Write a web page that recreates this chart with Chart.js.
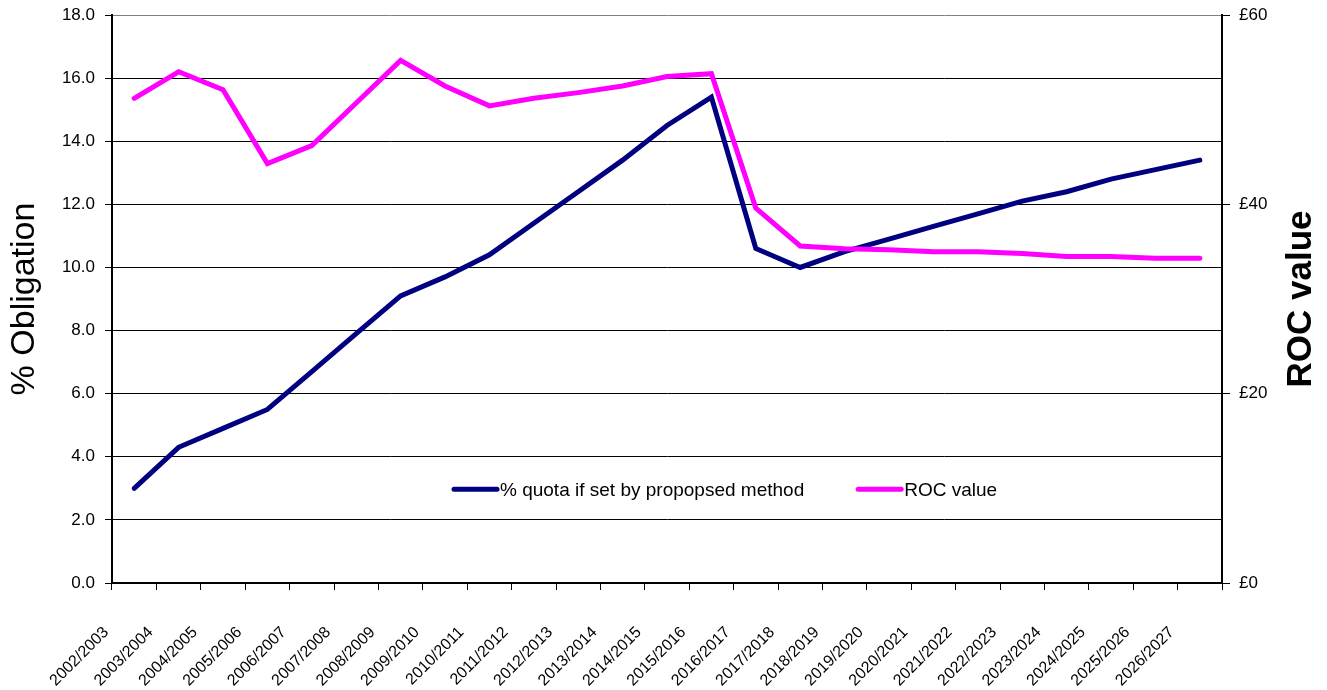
<!DOCTYPE html>
<html>
<head>
<meta charset="utf-8">
<script src="https://cdn.jsdelivr.net/npm/chart.js@4.4.1/dist/chart.umd.min.js"></script>
<style>
    body { margin: 0; background: #fff; }
    #contenedor { width: 1327px; height: 690px; }
</style>
</head>
<body>
<div id="contenedor">
    <canvas id="grafico" width="1327" height="690"></canvas>
</div>
<script>
const periodos = [
    '2002/2003', '2003/2004', '2004/2005', '2005/2006', '2006/2007',
    '2007/2008', '2008/2009', '2009/2010', '2010/2011', '2011/2012',
    '2012/2013', '2013/2014', '2014/2015', '2015/2016', '2016/2017',
    '2017/2018', '2018/2019', '2019/2020', '2020/2021', '2021/2022',
    '2022/2023', '2023/2024', '2024/2025', '2025/2026', '2026/2027'
];

// % obligation (left axis)
const cuota = [
    3.0, 4.3, 4.9, 5.5, 6.7, 7.9, 9.1, 9.7, 10.4, 11.4,
    12.4, 13.4, 14.5, 15.4, 10.6, 10.0, 10.5, 10.9, 11.3, 11.7,
    12.1, 12.4, 12.8, 13.1, 13.4
];

// ROC value in pounds (right axis)
const valorRoc = [
    51.2, 54.0, 52.1, 44.3, 46.2, 50.7, 55.2, 52.5, 50.4, 51.2,
    51.8, 52.5, 53.5, 53.8, 39.6, 35.6, 35.3, 35.2, 35.0, 35.0,
    34.8, 34.5, 34.5, 34.3, 34.3
];

const ticksIzq = { min: 0, max: 18, paso: 2 };
const ticksDer = { min: 0, max: 60, paso: 20 };

const fuente = "'Liberation Sans', Arial, sans-serif";

// legend drawn inside the plot area
const leyendaInterna = {
    id: 'leyendaInterna',
    afterDraw(chart) {
        const { ctx, chartArea } = chart;
        const y = chartArea.top + (chartArea.bottom - chartArea.top) * 0.835;
        let x = chartArea.left + 342;
        ctx.save();
        ctx.font = '19px ' + fuente;
        ctx.textBaseline = 'middle';
        ctx.fillStyle = '#000';
        chart.data.datasets.forEach(ds => {
            ctx.strokeStyle = ds.borderColor;
            ctx.lineWidth = 5;
            ctx.lineCap = 'round';
            ctx.beginPath();
            ctx.moveTo(x, y);
            ctx.lineTo(x + 43, y);
            ctx.stroke();
            x += 46;
            ctx.fillText(ds.label, x, y + 1);
            x += ctx.measureText(ds.label).width + 54;
        });
        ctx.restore();
    }
};

// right axis title reads bottom to top
const tituloDerecho = {
    id: 'tituloDerecho',
    afterDraw(chart) {
        const { ctx, chartArea } = chart;
        ctx.save();
        ctx.translate(chartArea.right + 79, (chartArea.top + chartArea.bottom) / 2);
        ctx.rotate(-Math.PI / 2);
        ctx.font = 'bold 35px ' + fuente;
        ctx.fillStyle = '#000';
        ctx.textAlign = 'center';
        ctx.textBaseline = 'middle';
        ctx.fillText('ROC value', 0, 0);
        ctx.restore();
    }
};

function anchoFijo(ancho) {
    return scale => {
        scale.width = ancho;
        scale.paddingTop = 0;
        scale.paddingBottom = 0;
    };
}

const ctx = document.getElementById('grafico').getContext('2d');
const grafico = new Chart(ctx, {
    type: 'line',
    data: {
        labels: periodos,
        datasets: [{
            label: '% quota if set by propopsed method',
            data: cuota,
            yAxisID: 'y',
            borderColor: '#000080',
            backgroundColor: '#000080',
            borderWidth: 5,
            borderCapStyle: 'round',
            pointRadius: 0,
            tension: 0,
            fill: false,
            order: 1
        }, {
            label: 'ROC value',
            data: valorRoc,
            yAxisID: 'y1',
            borderColor: '#FF00FF',
            backgroundColor: '#FF00FF',
            borderWidth: 5,
            borderCapStyle: 'round',
            pointRadius: 0,
            tension: 0,
            fill: false,
            order: 0
        }]
    },
    options: {
        responsive: false,
        animation: false,
        layout: { padding: { top: 15, left: 0, right: 0, bottom: 0 } },
        plugins: {
            legend: { display: false },
            tooltip: { enabled: false }
        },
        scales: {
            x: {
                offset: true,
                grid: {
                    offset: true,
                    drawOnChartArea: false,
                    tickLength: 7,
                    color: '#000',
                    lineWidth: 1
                },
                border: { color: '#000', width: 2 },
                ticks: {
                    autoSkip: false,
                    minRotation: 45,
                    maxRotation: 45,
                    labelOffset: -28,
                    padding: 33,
                    color: '#000',
                    font: { family: fuente, size: 16 }
                },
                afterFit(scale) {
                    scale.height = 107;
                    scale.paddingLeft = 0;
                    scale.paddingRight = 0;
                }
            },
            y: {
                position: 'left',
                min: ticksIzq.min,
                max: ticksIzq.max,
                grid: {
                    color: c => (c.tick && c.tick.value === ticksIzq.max) ? '#808080' : '#000',
                    tickColor: '#000',
                    lineWidth: 1,
                    tickLength: 7
                },
                border: { color: '#000', width: 2 },
                ticks: {
                    stepSize: ticksIzq.paso,
                    padding: 10,
                    color: '#000',
                    font: { family: fuente, size: 17 },
                    callback: v => v.toFixed(1)
                },
                title: {
                    display: true,
                    text: '% Obligation',
                    color: '#000',
                    font: { family: fuente, size: 34 },
                    padding: { top: 4, bottom: 0 }
                },
                afterFit: anchoFijo(112)
            },
            y1: {
                position: 'right',
                min: ticksDer.min,
                max: ticksDer.max,
                grid: {
                    drawOnChartArea: false,
                    color: '#000',
                    lineWidth: 1,
                    tickLength: 8
                },
                border: { color: '#000', width: 2 },
                ticks: {
                    stepSize: ticksDer.paso,
                    padding: 9,
                    color: '#000',
                    font: { family: fuente, size: 17 },
                    callback: v => '£' + v
                },
                afterFit: anchoFijo(105)
            }
        }
    },
    plugins: [leyendaInterna, tituloDerecho]
});
</script>
</body>
</html>
